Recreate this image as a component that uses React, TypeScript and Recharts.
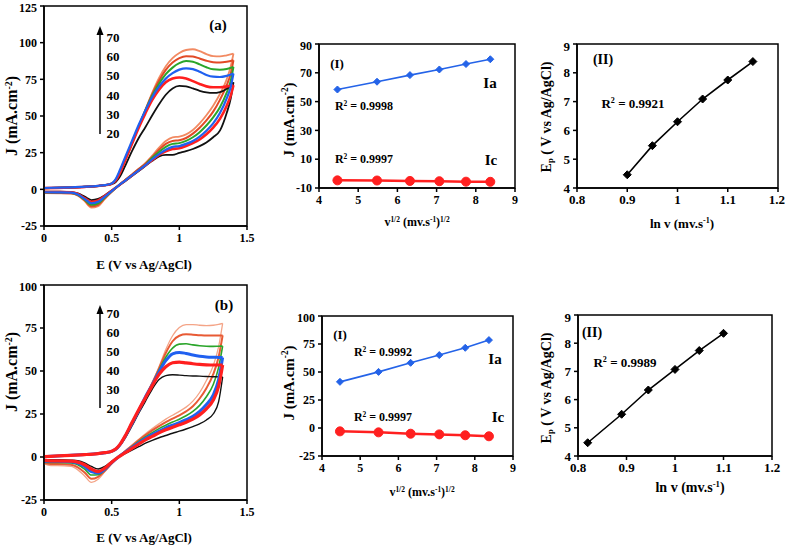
import React from 'react';
import { LineChart, Line, XAxis, YAxis, ReferenceArea } from 'recharts';

const FONT = '"Liberation Serif", "Times New Roman", Times, serif';

// ---------- Panel (a): cyclic voltammograms, scan rates 20..70 ----------
const A_FWD_E = [0, 0.1, 0.2, 0.3, 0.4, 0.45, 0.5, 0.53, 0.56, 0.6, 0.65, 0.7, 0.75, 0.8, 0.85, 0.9, 0.95, 1.0, 1.05, 1.1, 1.15, 1.2, 1.25, 1.3, 1.35, 1.4];
const a20Fwd = [0.8, 1.0, 1.3, 1.7, 2.3, 2.8, 3.6, 5, 8.5, 16, 26, 35, 42.5, 50.5, 58, 64.5, 68.8, 70.5, 70.2, 68.8, 67.2, 66.1, 65.7, 66.3, 68.5, 73];
const a30Fwd = [0.8, 1.0, 1.3, 1.7, 2.3, 2.8, 3.8, 6, 11, 20, 31, 42, 52, 61, 68, 73, 75.5, 76.3, 75.6, 73.8, 71.8, 70.2, 69.6, 69.6, 70.1, 71];
const a40Fwd = [0.9, 1.1, 1.4, 1.8, 2.4, 2.9, 4.0, 7, 13, 22, 33, 44, 54, 63, 70, 75.5, 79.2, 81.6, 82.5, 82, 80.2, 78, 76.8, 76.6, 77.4, 79];
const a50Fwd = [0.8, 1.0, 1.3, 1.7, 2.3, 2.8, 3.9, 6.5, 12, 21, 32, 43, 54, 64, 72, 78.5, 83, 86, 87.5, 87, 85.2, 83.2, 81.8, 81.5, 82, 83.5];
const a60Fwd = [0.8, 1.0, 1.3, 1.7, 2.3, 2.8, 3.8, 6, 11.5, 20, 31.5, 43, 54, 65, 74, 81.5, 86.5, 89.5, 90.8, 90.5, 89.2, 87.7, 86.7, 86.5, 87, 88];
const a70Fwd = [0.8, 1.0, 1.3, 1.7, 2.3, 2.8, 3.7, 6, 11, 19.5, 31, 43, 54.5, 66, 76, 84, 89.5, 93, 95, 95.5, 94.2, 92.2, 90.8, 90.6, 91.4, 92.5];

const A_REV_E = [0, 0.1, 0.2, 0.25, 0.3, 0.35, 0.4, 0.45, 0.5, 0.55, 0.6, 0.65, 0.7, 0.75, 0.8, 0.85, 0.9, 0.95, 1.0, 1.05, 1.1, 1.15, 1.2, 1.25, 1.3, 1.35, 1.38, 1.4];
const a20Rev = [-1.5, -1.6, -1.9, -2.8, -5, -7.3, -6.5, -4, -0.8, 2.5, 5.5, 9, 12.5, 16, 19.5, 22.5, 23.5, 23.5, 24.8, 26, 27.5, 29.5, 32, 35.5, 40, 52, 62, 73];
const a30Rev = [-1.8, -1.9, -2.1, -3.2, -6, -8.5, -7.5, -4.5, -1, 2.5, 6, 9.5, 13, 16.5, 20, 23.5, 26, 27.5, 28, 29.5, 31.5, 34, 37.5, 42, 48, 57, 64, 71];
const a40Rev = [-2, -2.1, -2.3, -3.5, -6.5, -9.5, -8.5, -5, -1.2, 2.5, 6, 9.5, 13, 16.5, 20.5, 24, 27, 29, 29.5, 31, 33, 36, 40, 45, 52, 62, 70, 79];
const a50Rev = [-2.2, -2.3, -2.5, -3.8, -7, -10.5, -9.5, -5.5, -1.4, 2.5, 6.2, 9.8, 13.4, 17, 21.5, 25.5, 29, 31, 31.5, 33, 35.5, 39, 43.5, 49, 56, 66, 74, 83.5];
const a60Rev = [-2.4, -2.5, -2.7, -4, -7.5, -11.5, -10.5, -6, -1.6, 2.5, 6.3, 10, 13.8, 17.5, 22, 27, 31, 33, 33.5, 35, 38, 42, 47, 53, 61, 71, 79, 88];
const a70Rev = [-2.6, -2.7, -2.9, -4.3, -8, -12.5, -11.5, -6.5, -1.8, 2.5, 6.4, 10.2, 14, 18, 23, 28.5, 33, 35.5, 36, 37.5, 40.5, 45, 50.5, 57, 65, 75, 84, 92.5];

// ---------- Panel (b) ----------
const B_FWD_E = [0, 0.1, 0.2, 0.3, 0.4, 0.45, 0.5, 0.53, 0.56, 0.6, 0.65, 0.7, 0.75, 0.8, 0.85, 0.9, 0.95, 1.0, 1.05, 1.1, 1.15, 1.2, 1.25, 1.29, 1.32];
const b20Fwd = [0.2, 0.6, 1.0, 1.4, 2.0, 2.5, 3.2, 4.2, 6.5, 11, 18, 25.5, 32.5, 39.5, 45, 47.3, 47.8, 47.6, 47.3, 47.1, 47, 46.8, 46.7, 46.6, 46.5];
const b30Fwd = [0.2, 0.6, 1.0, 1.4, 2.0, 2.5, 3.4, 4.6, 7.2, 12.3, 20, 27.5, 34.5, 41.5, 48, 52.5, 54.8, 55.2, 54.7, 54.2, 53.8, 53.6, 53.5, 53.5, 53.5];
const b40Fwd = [0.2, 0.6, 1.0, 1.4, 2.0, 2.5, 3.3, 4.5, 7, 12, 19.5, 27, 35, 42, 49.5, 56, 60, 60.8, 60.2, 59.3, 58.6, 58.2, 58, 57.9, 57.8];
const b50Fwd = [0.2, 0.6, 1.0, 1.4, 2.0, 2.5, 3.3, 4.5, 7, 12, 19.5, 27, 35, 42.5, 50.5, 58, 63.3, 65.6, 65.8, 65.2, 64.7, 64.4, 64.3, 64.4, 64.5];
const b60Fwd = [0.2, 0.6, 1.0, 1.4, 2.0, 2.5, 3.3, 4.5, 7, 12, 19.5, 27, 35, 43, 51.5, 60.5, 67.3, 70.5, 71.3, 71.1, 70.8, 70.6, 70.6, 70.7, 70.7];
const b70Fwd = [0.2, 0.6, 1.0, 1.4, 2.0, 2.5, 3.3, 4.5, 7, 12, 19.5, 26.5, 34.5, 43, 52.5, 62.5, 70.5, 75.3, 77, 77, 76.6, 76.4, 76.6, 77.1, 77.7];

const B_REV_E = [0, 0.05, 0.1, 0.2, 0.25, 0.3, 0.35, 0.4, 0.45, 0.5, 0.55, 0.6, 0.65, 0.7, 0.75, 0.8, 0.85, 0.9, 0.95, 1.0, 1.05, 1.1, 1.15, 1.2, 1.25, 1.29, 1.32];
const b20Rev = [-1.5, -1.5, -1.5, -1.8, -2.2, -3.5, -5.5, -7, -5.5, -2.5, 0, 2, 4, 6, 8, 9.7, 11.2, 12.5, 13.8, 15, 16.3, 17.7, 19.3, 21.5, 25, 32, 46.5];
const b30Rev = [-2, -2.2, -2.2, -2.4, -3, -4.5, -7, -8.5, -6.5, -3, 0, 2.5, 5, 7.5, 10, 12, 14, 15.8, 17.3, 18.7, 20.2, 22, 24.5, 28, 33, 41, 53.5];
const b40Rev = [-2.5, -2.5, -2.5, -2.8, -3.5, -5.5, -8.5, -9.3, -7, -3.3, 0, 2.8, 5.5, 8.2, 10.7, 13, 15, 17, 18.5, 20, 21.7, 23.7, 26.5, 30.5, 36, 45, 57.8];
const b50Rev = [-3, -3.2, -3.2, -3.5, -4.5, -7, -10.5, -10.3, -7.5, -3.5, 0, 3, 6, 9, 11.7, 14.2, 16.5, 18.5, 20.3, 22, 24, 26.5, 30, 35, 42, 52, 64.5];
const b60Rev = [-3.5, -4, -4, -4.5, -6, -9, -12.7, -11.5, -8, -3.8, 0, 3.3, 6.5, 9.7, 12.7, 15.5, 18, 20.3, 22.3, 24.2, 26.5, 29.5, 34, 40, 48, 58, 70.7];
const b70Rev = [-4, -5, -5, -5.5, -7.5, -11, -14.8, -13, -8.5, -4, 0, 3.6, 7, 10.3, 13.5, 16.5, 19.3, 22, 24.3, 26.5, 29, 32.5, 37.5, 44.5, 53, 64, 77.7];

// ---------- Panels (I): peak current vs sqrt(scan rate) ----------
const V_SQRT = [4.47, 5.48, 6.32, 7.07, 7.75, 8.37];
const I1_IA = [58.4, 63.8, 68.4, 72.3, 76.1, 79.4];
const I1_IC = [-4.7, -4.8, -5.1, -5.3, -5.6, -5.7];
const I2_IA = [41.2, 50.1, 58.2, 65.1, 71.6, 78.5];
const I2_IC = [-3.0, -3.9, -5.1, -5.7, -6.5, -7.4];

// ---------- Panels (II): Ep vs ln v ----------
const LNV_A = [0.9, 0.95, 1.0, 1.05, 1.1, 1.15];
const EP_A = [4.46, 5.47, 6.3, 7.09, 7.75, 8.39];
const LNV_B = [0.82, 0.89, 0.945, 1.0, 1.05, 1.1];
const EP_B = [4.47, 5.48, 6.34, 7.07, 7.74, 8.35];

const SCAN_LABELS = ['70', '60', '50', '40', '30', '20'];

const pts = (xs: number[], ys: number[]) => xs.map((x, i) => ({ x, y: ys[i] }));

const axisStyle = { stroke: '#000', strokeWidth: 1.5 };
const tickStyle = (fs: number) => ({ fill: '#000', fontFamily: FONT, fontWeight: 700, fontSize: fs });

type Curve = { id: string; fwd: number[]; rev: number[]; color: string; width: number };

const curvesA: Curve[] = [
  { id: '70', fwd: a70Fwd, rev: a70Rev, color: '#f28a62', width: 1.8 },
  { id: '60', fwd: a60Fwd, rev: a60Rev, color: '#e24a26', width: 2 },
  { id: '50', fwd: a50Fwd, rev: a50Rev, color: '#2aa52a', width: 2 },
  { id: '20', fwd: a20Fwd, rev: a20Rev, color: '#111111', width: 1.8 },
  { id: '30', fwd: a30Fwd, rev: a30Rev, color: '#ff1f1f', width: 2.6 },
  { id: '40', fwd: a40Fwd, rev: a40Rev, color: '#2060f0', width: 2.2 },
];

const curvesB: Curve[] = [
  { id: '70', fwd: b70Fwd, rev: b70Rev, color: '#f4a487', width: 1.3 },
  { id: '60', fwd: b60Fwd, rev: b60Rev, color: '#e85a34', width: 2 },
  { id: '50', fwd: b50Fwd, rev: b50Rev, color: '#2aa52a', width: 1.6 },
  { id: '20', fwd: b20Fwd, rev: b20Rev, color: '#111111', width: 1.4 },
  { id: '40', fwd: b40Fwd, rev: b40Rev, color: '#2060f0', width: 3 },
  { id: '30', fwd: b30Fwd, rev: b30Rev, color: '#ff1f1f', width: 3.2 },
];

function CvPanel(props: {
  left: number; top: number; height: number; yDomain: number[]; yTicks: number[];
  fwdE: number[]; revE: number[]; curves: Curve[];
}) {
  const { left, top, height, yDomain, yTicks, fwdE, revE, curves } = props;
  const lines = curves.flatMap((c) => [
    <Line key={c.id + 'f'} data={pts(fwdE, c.fwd)} dataKey="y" type="monotone" stroke={c.color}
      strokeWidth={c.width} dot={false} activeDot={false} isAnimationActive={false} />,
    <Line key={c.id + 'r'} data={pts(revE, c.rev)} dataKey="y" type="monotone" stroke={c.color}
      strokeWidth={c.width} dot={false} activeDot={false} isAnimationActive={false} />,
  ]);
  return (
    <div style={{ position: 'absolute', left, top }}>
      <LineChart width={260} height={height} margin={{ top: 6, right: 13, bottom: 0, left: 0 }}>
        <XAxis type="number" dataKey="x" domain={[0, 1.5]} ticks={[0, 0.5, 1, 1.5]} height={24}
          tick={tickStyle(12)} tickSize={4} tickMargin={3} axisLine={axisStyle} tickLine={axisStyle} allowDataOverflow />
        <YAxis type="number" domain={yDomain} ticks={yTicks} width={44} tick={tickStyle(12)} tickSize={4}
          tickMargin={3} axisLine={axisStyle} tickLine={axisStyle} allowDataOverflow />
        <ReferenceArea x1={0} x2={1.5} y1={yDomain[0]} y2={yDomain[1]} fill="none" stroke="#000"
          strokeWidth={1.5} ifOverflow="visible" />
        {lines}
      </LineChart>
    </div>
  );
}

type Ser = { id: string; xs: number[]; ys: number[]; color: string; width: number; shape: 'diamond' | 'circle'; r: number };

const makeDot = (shape: string, color: string, r: number) => (p: any) => {
  const { cx, cy, index } = p;
  if (cx == null || cy == null) return <g key={'n' + index} />;
  if (shape === 'circle') return <circle key={'c' + index} cx={cx} cy={cy} r={r} fill={color} stroke={color} />;
  return (
    <polygon key={'d' + index} points={`${cx},${cy - r} ${cx + r},${cy} ${cx},${cy + r} ${cx - r},${cy}`}
      fill={color} stroke={color} strokeWidth={1} />
  );
};

function LinPanel(props: {
  left: number; top: number; height: number; yW: number; right: number;
  xDomain: number[]; xTicks: number[]; yDomain: number[]; yTicks: number[]; series: Ser[]; fs: number;
}) {
  const { left, top, height, yW, right, xDomain, xTicks, yDomain, yTicks, series, fs } = props;
  return (
    <div style={{ position: 'absolute', left, top }}>
      <LineChart width={245} height={height} margin={{ top: 6, right, bottom: 0, left: 0 }}>
        <XAxis type="number" dataKey="x" domain={xDomain} ticks={xTicks} height={24} tick={tickStyle(fs)}
          tickSize={4} tickMargin={3} axisLine={axisStyle} tickLine={axisStyle} allowDataOverflow />
        <YAxis type="number" domain={yDomain} ticks={yTicks} width={yW} tick={tickStyle(fs)} tickSize={4}
          tickMargin={3} axisLine={axisStyle} tickLine={axisStyle} allowDataOverflow />
        <ReferenceArea x1={xDomain[0]} x2={xDomain[1]} y1={yDomain[0]} y2={yDomain[1]} fill="none"
          stroke="#000" strokeWidth={1.5} ifOverflow="visible" />
        {series.map((s) => (
          <Line key={s.id} data={pts(s.xs, s.ys)} dataKey="y" type="linear" stroke={s.color} strokeWidth={s.width}
            dot={makeDot(s.shape, s.color, s.r)} activeDot={false} isAnimationActive={false} />
        ))}
      </LineChart>
    </div>
  );
}

function T(props: { x: number; y: number; s?: number; r?: number; children: React.ReactNode }) {
  const { x, y, s = 13, r = 0, children } = props;
  return (
    <div style={{
      position: 'absolute', left: x, top: y, transform: `translate(-50%, -50%) rotate(${r}deg)`,
      fontFamily: FONT, fontWeight: 700, fontSize: s, whiteSpace: 'nowrap', lineHeight: 1, color: '#000',
    }}>{children}</div>
  );
}

const sup = (t: string) => <sup style={{ fontSize: '0.62em', verticalAlign: '0.55em', lineHeight: 0 }}>{t}</sup>;
const sub = (t: string) => <sub style={{ fontSize: '0.62em', verticalAlign: '-0.25em', lineHeight: 0 }}>{t}</sub>;

const BLUE = '#2463e8';
const RED = '#ff2020';

export default function App() {
  return (
    <div style={{ position: 'absolute', left: 0, top: 0, width: 785, height: 545, background: '#fff', overflow: 'hidden' }}>
      <CvPanel left={0} top={0} height={250} yDomain={[-25, 125]} yTicks={[-25, 0, 25, 50, 75, 100, 125]}
        fwdE={A_FWD_E} revE={A_REV_E} curves={curvesA} />
      <CvPanel left={0} top={279} height={245} yDomain={[-25, 100]} yTicks={[-25, 0, 25, 50, 75, 100]}
        fwdE={B_FWD_E} revE={B_REV_E} curves={curvesB} />

      <LinPanel left={280} top={38} height={174} yW={39} right={10} xDomain={[4, 9]} xTicks={[4, 5, 6, 7, 8, 9]}
        yDomain={[-10, 90]} yTicks={[-10, 10, 30, 50, 70, 90]} fs={12}
        series={[
          { id: 'ia', xs: V_SQRT, ys: I1_IA, color: BLUE, width: 1.6, shape: 'diamond', r: 3.5 },
          { id: 'ic', xs: V_SQRT, ys: I1_IC, color: RED, width: 2.5, shape: 'circle', r: 4.5 },
        ]} />
      <LinPanel left={540} top={38} height={174} yW={37} right={7} xDomain={[0.8, 1.2]} xTicks={[0.8, 0.9, 1, 1.1, 1.2]}
        yDomain={[4, 9]} yTicks={[4, 5, 6, 7, 8, 9]} fs={13}
        series={[{ id: 'ep', xs: LNV_A, ys: EP_A, color: '#000', width: 1.6, shape: 'diamond', r: 4 }]} />
      <LinPanel left={280} top={310} height={170} yW={42} right={12} xDomain={[4, 9]} xTicks={[4, 5, 6, 7, 8, 9]}
        yDomain={[-25, 100]} yTicks={[-25, 0, 25, 50, 75, 100]} fs={12}
        series={[
          { id: 'ia', xs: V_SQRT, ys: I2_IA, color: BLUE, width: 1.6, shape: 'diamond', r: 3.5 },
          { id: 'ic', xs: V_SQRT, ys: I2_IC, color: RED, width: 2.5, shape: 'circle', r: 4.5 },
        ]} />
      <LinPanel left={540} top={309} height={171} yW={38} right={13} xDomain={[0.8, 1.2]} xTicks={[0.8, 0.9, 1, 1.1, 1.2]}
        yDomain={[4, 9]} yTicks={[4, 5, 6, 7, 8, 9]} fs={13}
        series={[{ id: 'ep', xs: LNV_B, ys: EP_B, color: '#000', width: 1.6, shape: 'diamond', r: 4 }]} />

      {/* arrows for scan-rate order */}
      <svg width={785} height={545} style={{ position: 'absolute', left: 0, top: 0, pointerEvents: 'none' }}>
        <line x1={100} y1={134} x2={100} y2={32} stroke="#000" strokeWidth={1.5} />
        <polygon points="100,26 96.5,35 103.5,35" fill="#000" />
        <line x1={100} y1={408} x2={100} y2={311} stroke="#000" strokeWidth={1.5} />
        <polygon points="100,305 96.5,314 103.5,314" fill="#000" />
      </svg>

      {/* panel (a) texts */}
      <T x={218} y={25} s={15}>(a)</T>
      {SCAN_LABELS.map((l, i) => <T key={'la' + l} x={113} y={37 + 19.2 * i} s={13}>{l}</T>)}
      <T x={12} y={116} s={16} r={-90}>J (mA.cm{sup('-2')})</T>
      <T x={144} y={264} s={13}>E (V vs Ag/AgCl)</T>

      {/* panel (b) texts */}
      <T x={224} y={305} s={15}>(b)</T>
      {SCAN_LABELS.map((l, i) => <T key={'lb' + l} x={113} y={313 + 19 * i} s={13}>{l}</T>)}
      <T x={12} y={372} s={16} r={-90}>J (mA.cm{sup('-2')})</T>
      <T x={144} y={537} s={13}>E (V vs Ag/AgCl)</T>

      {/* top (I) */}
      <T x={337} y={63} s={13}>(I)</T>
      <T x={490} y={83} s={15}>Ia</T>
      <T x={364} y={106} s={12}>R{sup('2')} = 0.9998</T>
      <T x={364} y={159} s={12}>R{sup('2')} = 0.9997</T>
      <T x={491} y={160} s={15}>Ic</T>
      <T x={289} y={120} s={15} r={-90}>J (mA.cm{sup('-2')})</T>
      <T x={417} y={222} s={12}>v{sup('1/2')} (mv.s{sup('-1')}){sup('1/2')}</T>

      {/* top (II) */}
      <T x={603} y={60} s={14}>(II)</T>
      <T x={633} y={103} s={13}>R{sup('2')} = 0.9921</T>
      <T x={547} y={117} s={14} r={-90}>E{sub('p')} ( V vs Ag/AgCl)</T>
      <T x={682} y={223} s={13}>ln v (mv.s{sup('-1')})</T>

      {/* bottom (I) */}
      <T x={340} y={334} s={13}>(I)</T>
      <T x={383} y={352} s={12}>R{sup('2')} = 0.9992</T>
      <T x={495} y={359} s={15}>Ia</T>
      <T x={383} y={417} s={12}>R{sup('2')} = 0.9997</T>
      <T x={498} y={417} s={15}>Ic</T>
      <T x={289} y={383} s={15} r={-90}>J (mA.cm{sup('-2')})</T>
      <T x={422} y={492} s={12}>v{sup('1/2')} (mv.s{sup('-1')}){sup('1/2')}</T>

      {/* bottom (II) */}
      <T x={592} y={333} s={14}>(II)</T>
      <T x={625} y={362} s={13}>R{sup('2')} = 0.9989</T>
      <T x={547} y={388} s={14} r={-90}>E{sub('p')} ( V vs Ag/AgCl)</T>
      <T x={690} y={488} s={14}>ln v (mv.s{sup('-1')})</T>
    </div>
  );
}
